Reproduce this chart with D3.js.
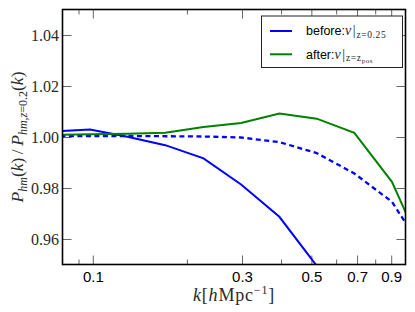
<!DOCTYPE html>
<html>
<head>
<meta charset="utf-8">
<script src="https://cdn.jsdelivr.net/npm/d3@7"></script>
<style>
  body { margin: 0; background: #fff; }
  svg { display: block; }
  .tick line { stroke: #666; }
</style>
</head>
<body>
<svg class="chart"></svg>
<script>
// k values of the binned power spectrum
var kValues = [0.074, 0.098, 0.129, 0.1705, 0.226, 0.298, 0.395, 0.52, 0.686, 0.905, 1.19];

// ratio P_hm(k) / P_hm,z=0.2(k)
var beforeRatio = [1.0021, 1.0029, 1.0001, 0.9968, 0.9916, 0.9814, 0.9687, 0.9495, 0.925, 0.89, 0.85];
var beforeDashed = [1.0004, 1.0004, 1.0004, 1.0003, 1.0002, 0.9998, 0.9980, 0.9937, 0.9857, 0.9746, 0.952];
var afterRatio = [1.0008, 1.0011, 1.0013, 1.0017, 1.0039, 1.0055, 1.0092, 1.0072, 1.0016, 0.9824, 0.950];

var xMajorTicks = [0.1, 0.3, 0.5, 0.7, 0.9];
var xMinorTicks = [0.09, 0.2, 0.4, 0.6, 0.8];
var yTicks = [0.96, 0.98, 1.00, 1.02, 1.04];

var W = 415, H = 312;
var plot = { left: 62.5, right: 405.5, top: 9.5, bottom: 264.5 };

var svg = d3.select('svg.chart')
  .attr('width', W)
  .attr('height', H);

var x = d3.scaleLog().domain([0.08, 1.0]).range([plot.left, plot.right]);
var y = d3.scaleLinear().domain([0.95, 1.05]).range([plot.bottom, plot.top]);

svg.append('defs').append('clipPath').attr('id', 'clip')
  .append('rect')
  .attr('x', plot.left).attr('y', plot.top)
  .attr('width', plot.right - plot.left).attr('height', plot.bottom - plot.top);

// ticks (all inward, matplotlib style)
var sansFont = '"Liberation Sans", Arial, sans-serif';
var serifFont = '"Liberation Serif", "Times New Roman", serif';
var mathInk = '#2a2a2a';

var styleAxis = function (g) {
  g.select('.domain').remove();
  g.selectAll('.tick line').attr('stroke', '#666').attr('stroke-width', 1);
};

svg.append('g')
  .attr('transform', 'translate(0,' + plot.bottom + ')')
  .call(d3.axisBottom(x).tickValues(xMajorTicks).tickSizeInner(-9).tickSizeOuter(0).tickPadding(7)
    .tickFormat(d3.format('.1f')))
  .call(styleAxis)
  .selectAll('text')
  .attr('font-family', sansFont).attr('font-size', 15).attr('fill', '#000');

svg.append('g')
  .attr('transform', 'translate(0,' + plot.bottom + ')')
  .call(d3.axisBottom(x).tickValues(xMinorTicks).tickSizeInner(-5).tickSizeOuter(0).tickFormat(''))
  .call(styleAxis);

svg.append('g')
  .attr('transform', 'translate(0,' + plot.top + ')')
  .call(d3.axisTop(x).tickValues(xMajorTicks).tickSizeInner(-9).tickSizeOuter(0).tickFormat(''))
  .call(styleAxis);

svg.append('g')
  .attr('transform', 'translate(0,' + plot.top + ')')
  .call(d3.axisTop(x).tickValues(xMinorTicks).tickSizeInner(-5).tickSizeOuter(0).tickFormat(''))
  .call(styleAxis);

svg.append('g')
  .attr('transform', 'translate(' + plot.left + ',0)')
  .call(d3.axisLeft(y).tickValues(yTicks).tickSizeInner(-9).tickSizeOuter(0).tickPadding(3.5)
    .tickFormat(d3.format('.2f')))
  .call(styleAxis)
  .selectAll('text')
  .attr('font-family', serifFont).attr('font-size', 16).attr('fill', mathInk);

svg.append('g')
  .attr('transform', 'translate(' + plot.right + ',0)')
  .call(d3.axisRight(y).tickValues(yTicks).tickSizeInner(-9).tickSizeOuter(0).tickFormat(''))
  .call(styleAxis);

// series
var line = d3.line()
  .x(function (d, i) { return x(kValues[i]); })
  .y(function (d) { return y(d); });

var lines = svg.append('g').attr('clip-path', 'url(#clip)');

lines.append('path').datum(beforeDashed)
  .attr('d', line).attr('fill', 'none')
  .attr('stroke', '#0000ff').attr('stroke-width', 2.3)
  .attr('stroke-dasharray', '5,3.5');

lines.append('path').datum(beforeRatio)
  .attr('d', line).attr('fill', 'none')
  .attr('stroke', '#0000ff').attr('stroke-width', 2);

lines.append('path').datum(afterRatio)
  .attr('d', line).attr('fill', 'none')
  .attr('stroke', '#008000').attr('stroke-width', 2);

// frame
svg.append('rect')
  .attr('x', plot.left).attr('y', plot.top)
  .attr('width', plot.right - plot.left).attr('height', plot.bottom - plot.top)
  .attr('fill', 'none').attr('stroke', '#000').attr('stroke-width', 1.6);

// axis labels
var xLabel = svg.append('text')
  .attr('x', (plot.left + plot.right) / 2).attr('y', 301)
  .attr('text-anchor', 'middle')
  .attr('font-family', serifFont).attr('font-size', 18)
  .attr('letter-spacing', 0.8).attr('fill', mathInk);
xLabel.append('tspan').attr('font-style', 'italic').text('k');
xLabel.append('tspan').text('[');
xLabel.append('tspan').attr('font-style', 'italic').text('h');
xLabel.append('tspan').text('Mpc');
xLabel.append('tspan').attr('font-size', 12).attr('dy', -7).text('\u22121');
xLabel.append('tspan').attr('dy', 7).text(']');

var yLabel = svg.append('text')
  .attr('transform', 'translate(23,' + ((plot.top + plot.bottom) / 2) + ') rotate(-90)')
  .attr('text-anchor', 'middle')
  .attr('font-family', serifFont).attr('font-size', 17.5).attr('fill', mathInk);
yLabel.append('tspan').attr('font-style', 'italic').text('P');
yLabel.append('tspan').attr('font-style', 'italic').attr('font-size', 12).attr('dy', 4).text('hm');
yLabel.append('tspan').attr('dy', -4).text('(');
yLabel.append('tspan').attr('font-style', 'italic').text('k');
yLabel.append('tspan').text(')\u2009/\u2009');
yLabel.append('tspan').attr('font-style', 'italic').text('P');
yLabel.append('tspan').attr('font-style', 'italic').attr('font-size', 12).attr('dy', 4).text('hm');
yLabel.append('tspan').attr('font-size', 12).text(',');
yLabel.append('tspan').attr('font-style', 'italic').attr('font-size', 12).text('z');
yLabel.append('tspan').attr('font-size', 12).text('=0.2');
yLabel.append('tspan').attr('dy', -4).text('(');
yLabel.append('tspan').attr('font-style', 'italic').text('k');
yLabel.append('tspan').text(')');

// legend
var legend = svg.append('g');
legend.append('rect')
  .attr('x', 261.5).attr('y', 16).attr('width', 141).attr('height', 51.5)
  .attr('fill', '#fff').attr('stroke', '#222').attr('stroke-width', 1);

var legendItems = [
  { color: '#0000ff', label: 'before:', sub: 'z=0.25', subsub: '' },
  { color: '#008000', label: 'after:', sub: 'z=z', subsub: 'pos' }
];

legendItems.forEach(function (item, i) {
  var ly = 31 + i * 23.3;
  legend.append('line')
    .attr('x1', 270).attr('x2', 292).attr('y1', ly).attr('y2', ly)
    .attr('stroke', item.color).attr('stroke-width', 2);
  var t = legend.append('text')
    .attr('x', 306).attr('y', ly + 4.3)
    .attr('font-family', sansFont).attr('font-size', 12.5);
  t.append('tspan').text(item.label);
  t.append('tspan').attr('font-family', serifFont).attr('font-style', 'italic').attr('font-size', 14)
    .attr('fill', mathInk).text('v');
  t.append('tspan').attr('font-family', serifFont).attr('font-size', 14).attr('dx', 1.5)
    .attr('fill', mathInk).text('|');
  t.append('tspan').attr('font-family', serifFont).attr('font-size', 9.5).attr('dy', 2.5).attr('dx', 1)
    .attr('letter-spacing', 0.6).attr('fill', mathInk).text(item.sub);
  if (item.subsub) {
    t.append('tspan').attr('font-family', serifFont).attr('font-size', 7).attr('dy', 1.5)
      .attr('letter-spacing', 0.6).attr('fill', mathInk).text(item.subsub);
  }
});
</script>
</body>
</html>
